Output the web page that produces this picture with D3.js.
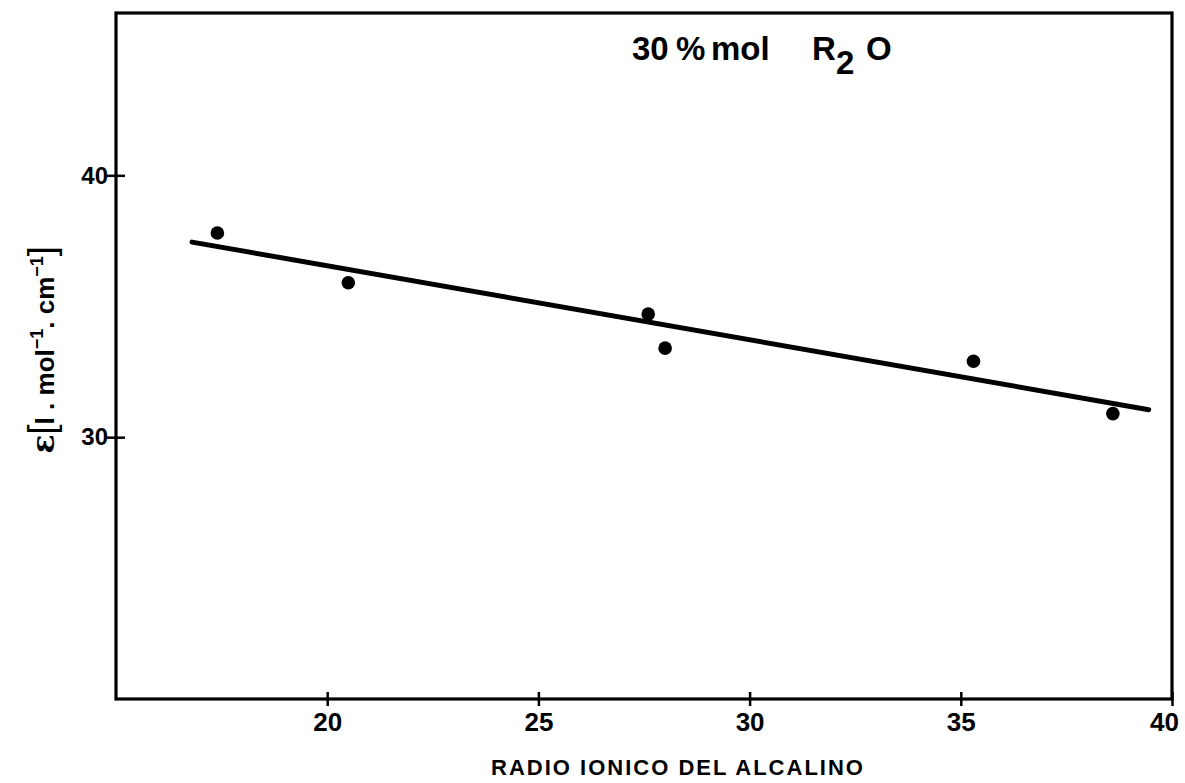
<!DOCTYPE html>
<html>
<head>
<meta charset="utf-8">
<script src="https://cdn.jsdelivr.net/npm/d3@7"></script>
<style>
  html, body { margin: 0; padding: 0; background: #fff; }
  svg text { font-family: "Liberation Sans", "DejaVu Sans", sans-serif; fill: #000; }
</style>
</head>
<body>
<svg id="chart" width="1185" height="783"></svg>
<script>
// ---- data ----
const radio   = [17.4, 20.5, 27.6, 28.0, 35.3, 38.6];
const epsilon = [37.8, 35.9, 34.7, 33.4, 32.9, 30.9];
const fitX = [16.8, 39.45];
const fitY = [37.45, 31.05];
const xTicks = [20, 25, 30, 35, 40];
const yTicks = [30, 40];
const xDomain = [15, 40];
const yDomain = [20, 46.2];
const titleParts = ["30", "%", "mol", "R", "2", "O"];
const xLabel = "RADIO IONICO DEL ALCALINO";

// ---- layout ----
const svg = d3.select("#chart");
const L = 116, R = 1172, T = 13, B = 699;
const x = d3.scaleLinear().domain(xDomain).range([L, R]);
const y = d3.scaleLinear().domain(yDomain).range([B, T]);

// frame
svg.append("rect")
  .attr("x", L).attr("y", T).attr("width", R - L).attr("height", B - T)
  .attr("fill", "none").attr("stroke", "#000").attr("stroke-width", 3.2);

// x axis ticks (crossing the frame)
const xAxis = d3.axisBottom(x).tickValues(xTicks).tickSize(7).tickFormat(d3.format("d"));
const gx = svg.append("g").attr("transform", `translate(0,${B})`).call(xAxis);
gx.select(".domain").remove();
gx.selectAll(".tick line").attr("stroke", "#000").attr("stroke-width", 2.5).attr("y1", -7).attr("y2", 7);
gx.selectAll(".tick text").attr("font-size", 26).attr("font-weight", "bold")
  .attr("y", 32).attr("dy", 0)
  .attr("dx", d => d === xDomain[1] ? -8 : 0);

// y axis ticks (crossing the frame)
const yAxis = d3.axisLeft(y).tickValues(yTicks).tickSize(9).tickFormat(d3.format("d"));
const gy = svg.append("g").attr("transform", `translate(${L},0)`).call(yAxis);
gy.select(".domain").remove();
gy.selectAll(".tick line").attr("stroke", "#000").attr("stroke-width", 2.5).attr("x1", -9).attr("x2", 9);
gy.selectAll(".tick text").attr("font-size", 24).attr("font-weight", "bold").attr("x", -8);

// fit line
const line = d3.line().x(d => x(d[0])).y(d => y(d[1]));
svg.append("path")
  .datum(d3.zip(fitX, fitY))
  .attr("d", line)
  .attr("fill", "none").attr("stroke", "#000").attr("stroke-width", 5).attr("stroke-linecap", "round");

// points
svg.append("g").selectAll("circle")
  .data(d3.zip(radio, epsilon))
  .join("circle")
  .attr("cx", d => x(d[0])).attr("cy", d => y(d[1]))
  .attr("r", 6.8).attr("fill", "#000");

// title "30 % mol R2O"
const title = svg.append("text").attr("y", 60).attr("font-size", 33).attr("font-weight", "bold");
title.append("tspan").attr("x", 632).text(titleParts[0]);
title.append("tspan").attr("x", 676).text(titleParts[1]);
title.append("tspan").attr("x", 711).text(titleParts[2]);
title.append("tspan").attr("x", 812).text(titleParts[3]);
title.append("tspan").attr("x", 836).attr("dy", 14).text(titleParts[4]);
title.append("tspan").attr("x", 866).attr("dy", -14).text(titleParts[5]);

// x label
svg.append("text")
  .attr("x", 678).attr("y", 775)
  .attr("text-anchor", "middle")
  .attr("font-size", 22)
  .attr("font-weight", "bold")
  .attr("letter-spacing", 2)
  .text(xLabel);

// y label
const yl = svg.append("text")
  .attr("transform", `translate(54,350) rotate(-90)`)
  .attr("text-anchor", "middle")
  .attr("font-size", 26)
  .attr("font-weight", "bold");
yl.append("tspan").attr("font-family", "DejaVu Serif").attr("font-size", 32).text("ε");
yl.append("tspan").attr("font-size", 36).attr("font-weight", "normal").text("[");
yl.append("tspan").text("l . mol");
yl.append("tspan").attr("dy", -11).attr("font-size", 18).text("−1");
yl.append("tspan").attr("dy", 11).text(". cm");
yl.append("tspan").attr("dy", -11).attr("font-size", 18).text("−1");
yl.append("tspan").attr("dy", 11).attr("font-size", 36).attr("font-weight", "normal").text("]");
</script>
</body>
</html>
